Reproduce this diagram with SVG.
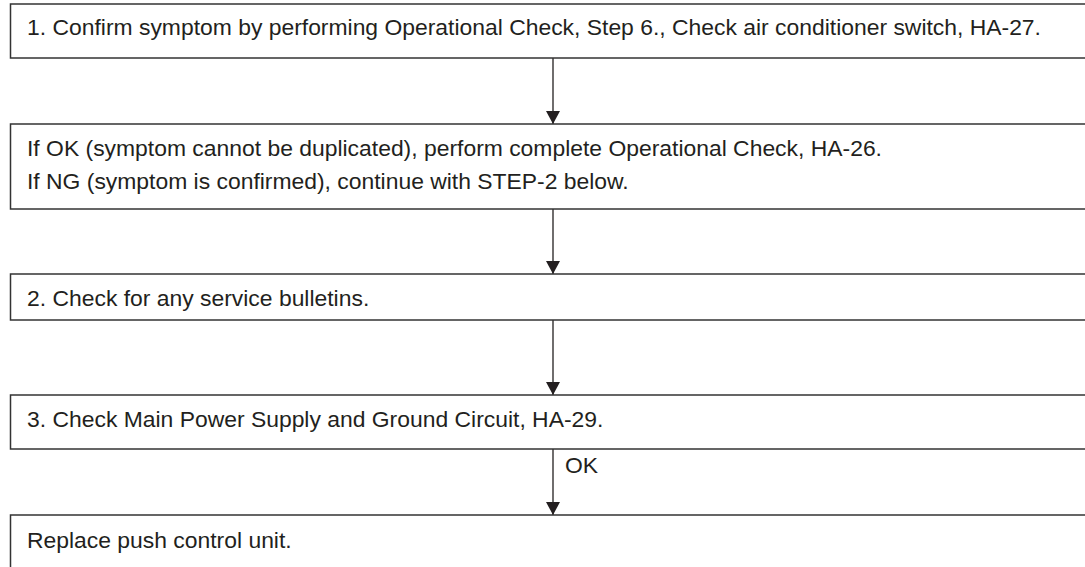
<svg xmlns="http://www.w3.org/2000/svg" width="1085" height="567" viewBox="0 0 1085 567">
<style>
.box{fill:#fff;stroke:#333;stroke-width:1.5}
.t{font-family:"Liberation Sans",Arial,sans-serif;font-size:22.9px;fill:#231f20}
.c{stroke:#231f20;stroke-width:1.3;fill:none}
</style>
<defs>
<marker id="ah" viewBox="0 0 13 14" refX="13" refY="7" markerWidth="13" markerHeight="14" markerUnits="userSpaceOnUse" orient="auto">
<path d="M0,0 L13,7 L0,14 Z" fill="#231f20"/>
</marker>
</defs>
<rect width="1085" height="567" fill="#fff"/>
<g id="connectors">
<line class="c" x1="553" y1="58" x2="553" y2="124" marker-end="url(#ah)"/>
<line class="c" x1="553" y1="209" x2="553" y2="274" marker-end="url(#ah)"/>
<line class="c" x1="553" y1="320" x2="553" y2="395" marker-end="url(#ah)"/>
<line class="c" x1="553" y1="449" x2="553" y2="515" marker-end="url(#ah)"/>
<text class="t" x="565" y="473">OK</text>
</g>
<g id="n1">
<rect class="box" x="10.5" y="4" width="1090" height="54"/>
<text class="t" x="27" y="35">1. Confirm symptom by performing Operational Check, Step 6., Check air conditioner switch, HA-27.</text>
</g>
<g id="n2">
<rect class="box" x="10.5" y="124" width="1090" height="85"/>
<text class="t" x="27" y="156">If OK (symptom cannot be duplicated), perform complete Operational Check, HA-26.</text>
<text class="t" x="27" y="189">If NG (symptom is confirmed), continue with STEP-2 below.</text>
</g>
<g id="n3">
<rect class="box" x="10.5" y="274" width="1090" height="46"/>
<text class="t" x="27" y="306">2. Check for any service bulletins.</text>
</g>
<g id="n4">
<rect class="box" x="10.5" y="395" width="1090" height="54"/>
<text class="t" x="27" y="427">3. Check Main Power Supply and Ground Circuit, HA-29.</text>
</g>
<g id="n5">
<rect class="box" x="10.5" y="515" width="1090" height="80"/>
<text class="t" x="27" y="548">Replace push control unit.</text>
</g>
</svg>
